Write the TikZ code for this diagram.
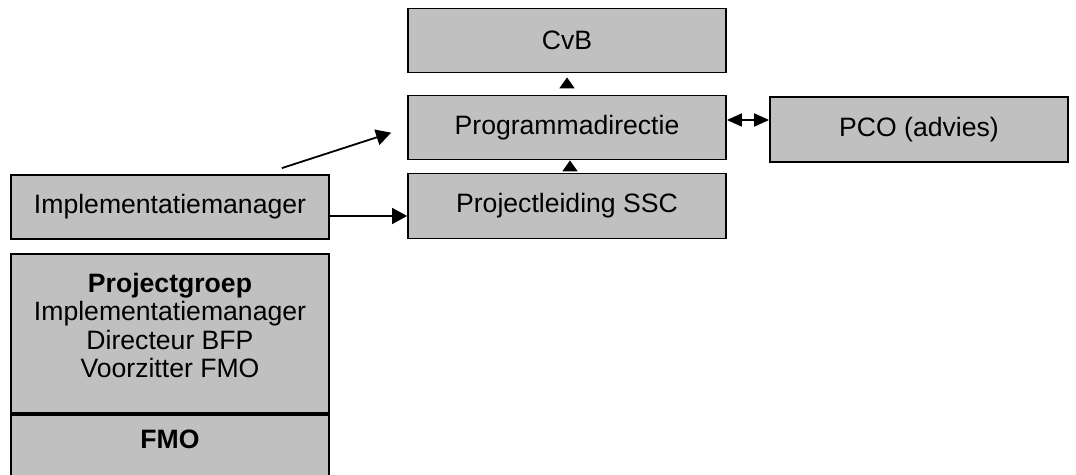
\documentclass[tikz,border=0pt]{standalone}
\usepackage{fontspec}
\setmainfont{Liberation Sans}
\usetikzlibrary{arrows.meta,calc}

\definecolor{boxgray}{HTML}{C0C0C0}

\tikzset{
  box/.style={draw, line width=0.9pt, fill=boxgray, inner sep=0pt,
    minimum width=159pt, minimum height=32pt,
    font=\fontsize{13.3}{14.3}\selectfont},
  upline/.style={line width=0.9pt, -{Triangle[width=7.5pt,length=5.5pt]}},
  toline/.style={line width=0.9pt, -{Triangle[width=8pt,length=7.5pt]}},
  bothline/.style={line width=0.9pt, {Triangle[width=6.5pt,length=7.5pt]}-{Triangle[width=6.5pt,length=7.5pt]}}
}

\begin{document}
\begin{tikzpicture}[x=0.5pt, y=-0.5pt]
    \clip (0,0) rectangle (1076,475);

    % top of the line
    \node[box] (cvb) at (567,40.5) {CvB};
    \node[box] (pdir) at (567,127.5) {Programmadirectie};
    \node[box, minimum height=32.5pt] (plead) at (567,206) {Projectleiding SSC};
    \node[box, minimum width=149pt, minimum height=32.5pt] (pco) at (919,129.5) {PCO (advies)};

    % left column
    \node[box] (impl) at (170,207) {Implementatiemanager};
    \node[box, minimum height=79.5pt] (pgroep) at (170,333.5) {};
    \node[align=center, font=\fontsize{13.3}{14.3}\selectfont] (pgroeptext) at (170,325.5)
        {\textbf{Projectgroep}\\Implementatiemanager\\Directeur BFP\\Voorzitter FMO};
    \node[box, anchor=north, minimum height=45pt] (fmo) at (pgroep.south) {};
    \node[font=\fontsize{13.3}{14.3}\selectfont\bfseries] (fmotext) at (170,439) {FMO};

    % reporting lines
    \draw[upline, shorten <=4pt, shorten >=2pt] (pdir.north) -- (cvb.south);
    \draw[upline, shorten <=2.5pt] ([xshift=1.5pt]plead.north) -- ([xshift=1.5pt]pdir.south);
    \draw[bothline] ([yshift=3.75pt]pdir.east) -- ([yshift=3.75pt]pdir.east -| pco.west);
    \draw[toline] ([yshift=-4.5pt]impl.east) -- ([yshift=-4.5pt]impl.east -| plead.west);
    \draw[toline, shorten <=9.7pt, shorten >=8.4pt] ([xshift=-33.25pt]impl.north east) -- (pdir.west);
\end{tikzpicture}
\end{document}
